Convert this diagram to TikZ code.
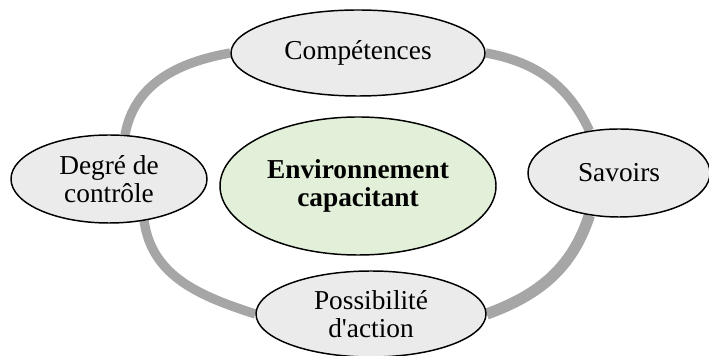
\documentclass[tikz,border=0pt]{standalone}
\usepackage{fontspec}
\setmainfont{Liberation Serif}
\usepackage{xcolor}
\usetikzlibrary{shapes.geometric, backgrounds}
\definecolor{RingGray}{HTML}{A6A6A6}
\definecolor{PetalGray}{HTML}{EBEBEB}
\definecolor{HubGreen}{HTML}{E2EFD9}
\tikzset{
  petal/.style={ellipse, draw=black, line width=1.1pt, fill=PetalGray,
                inner sep=0pt, align=center, font=\fontsize{20.5}{20.5}\selectfont},
  hub/.style={petal, fill=HubGreen, font=\fontsize{20.5}{20.5}\selectfont\bfseries},
  ring/.style={draw=RingGray, line width=7pt}
}

\begin{document}
\begin{tikzpicture}[x=0.75pt, y=0.75pt]
\useasboundingbox (0,0) rectangle (709,356);
\node[hub, minimum width=207pt, minimum height=103.5pt] (hub) at (358,170) {Environnement\\capacitant};
\node[petal, minimum width=190.5pt, minimum height=64.5pt] (comp) at (358,303) {Compétences};
\node[petal, minimum width=136.5pt, minimum height=66pt] (sav) at (619,183) {Savoirs};
\node[petal, minimum width=172.5pt, minimum height=64.5pt] (poss) at (371,42) {Possibilité\\d\textquotesingle action};
\node[petal, minimum width=147pt, minimum height=66pt] (deg) at (109,177) {Degré de\\contrôle};

% cycle behind the petals
\begin{scope}[on background layer]
\draw[ring] (deg.70) to[out=80, in=190] (comp.west);
\draw[ring] (comp.east) to[out=-10, in=115] (sav.125);
\draw[ring, line width=8.5pt] (sav.235) to[out=-108, in=20] (poss.east);
\draw[ring] (poss.west) to[out=162, in=-82] (deg.-50);
\end{scope}
\end{tikzpicture}
\end{document}
